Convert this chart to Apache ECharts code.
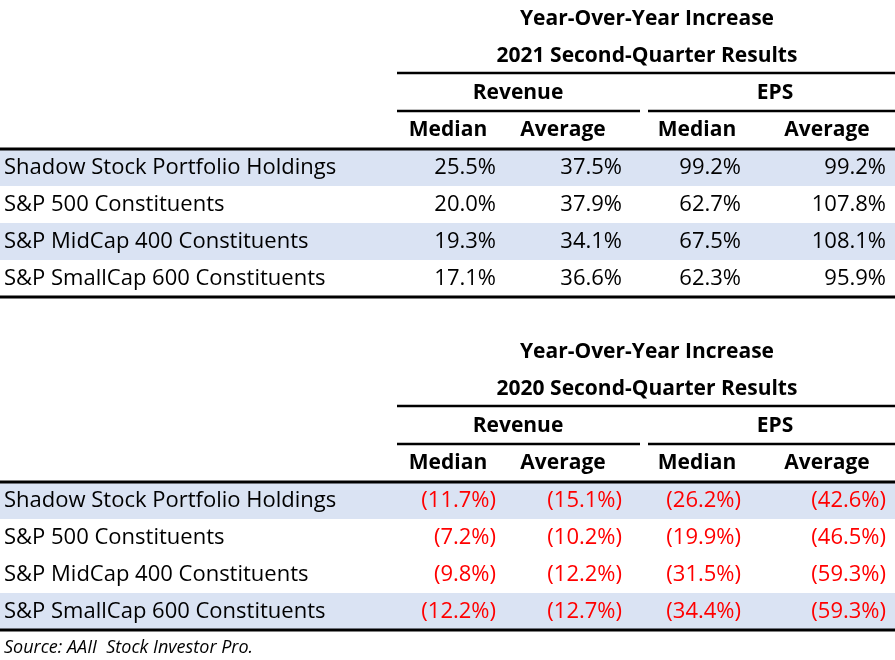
<!DOCTYPE html>
<html>
<head>
<meta charset="utf-8">
<script src="https://cdn.jsdelivr.net/npm/echarts@6/dist/echarts.min.js"></script>
<style>html,body{margin:0;padding:0;background:#fff}#main{width:895px;height:660px}</style>
</head>
<body>
<div id="main"></div>
<script>
var rowLabels = ['Shadow Stock Portfolio Holdings', 'S&P 500 Constituents', 'S&P MidCap 400 Constituents', 'S&P SmallCap 600 Constituents'];
var colGroups = ['Revenue', 'EPS'];
var colLabels = ['Median', 'Average', 'Median', 'Average'];
var titles2021 = ['Year-Over-Year Increase', '2021 Second-Quarter Results'];
var titles2020 = ['Year-Over-Year Increase', '2020 Second-Quarter Results'];
// percent values, rows x [rev median, rev avg, eps median, eps avg]
var values2021 = [
    [25.5, 37.5, 99.2, 99.2],
    [20.0, 37.9, 62.7, 107.8],
    [19.3, 34.1, 67.5, 108.1],
    [17.1, 36.6, 62.3, 95.9]
];
var values2020 = [
    [-11.7, -15.1, -26.2, -42.6],
    [-7.2, -10.2, -19.9, -46.5],
    [-9.8, -12.2, -31.5, -59.3],
    [-12.2, -12.7, -34.4, -59.3]
];
var shaded2021 = [0, 2];
var shaded2020 = [0, 3];
var sourceText = 'Source: AAII  Stock Investor Pro.';

var font = '"Open Sans", Lato, sans-serif';
var colRight = [496, 622, 741, 886];
var colCenter = [448, 563, 697, 827];
var groupCenter = [518, 775];

function fmt(v) {
    return v < 0 ? '(' + Math.abs(v).toFixed(1) + '%)' : v.toFixed(1) + '%';
}
function txt(x, y, s, opt) {
    return {
        type: 'text', x: x, y: y,
        style: Object.assign({ text: s, fontFamily: font, fontSize: 22, fill: '#000', align: 'left', verticalAlign: 'middle' }, opt || {})
    };
}
function line(x1, y1, x2, y2, w) {
    return { type: 'line', shape: { x1: x1, y1: y1, x2: x2, y2: y2 }, style: { stroke: '#000', lineWidth: w } };
}

function table(top, titles, values, shaded) {
    var els = [];
    var rowTop = top + 130;
    var rh = 37;
    shaded.forEach(function (r) {
        els.push({ type: 'rect', shape: { x: 0, y: rowTop + r * rh, width: 895, height: rh }, style: { fill: '#dae3f3' }, z: -1 });
    });
    els.push(txt(647, top, titles[0], { fontWeight: 'bold', align: 'center', fontSize: 21 }));
    els.push(txt(647, top + 37, titles[1], { fontWeight: 'bold', align: 'center', fontSize: 21 }));
    els.push(line(397, top + 54, 895, top + 54, 2.5));
    colGroups.forEach(function (g, i) {
        els.push(txt(groupCenter[i], top + 74, g, { fontWeight: 'bold', align: 'center', fontSize: 21 }));
    });
    els.push(line(397, top + 92, 640, top + 92, 2.5));
    els.push(line(648, top + 92, 895, top + 92, 2.5));
    colLabels.forEach(function (c, i) {
        els.push(txt(colCenter[i], top + 111, c, { fontWeight: 'bold', align: 'center', fontSize: 21 }));
    });
    els.push(line(0, rowTop, 895, rowTop, 3));
    rowLabels.forEach(function (lab, r) {
        var cy = rowTop + r * rh + rh / 2;
        els.push(txt(4, cy, lab));
        values[r].forEach(function (v, c) {
            els.push(txt(colRight[c], cy, fmt(v), { align: 'right', fill: v < 0 ? '#ff0000' : '#000' }));
        });
    });
    els.push(line(0, rowTop + 4 * rh, 895, rowTop + 4 * rh, 3));
    return els;
}

var chart = echarts.init(document.getElementById('main'));
var elements = table(19, titles2021, values2021, shaded2021)
    .concat(table(352, titles2020, values2020, shaded2020));
elements.push(txt(4, 648, sourceText, { fontSize: 18, fontStyle: 'italic' }));
chart.setOption({ animation: false, graphic: { elements: elements } });
</script>
</body>
</html>
